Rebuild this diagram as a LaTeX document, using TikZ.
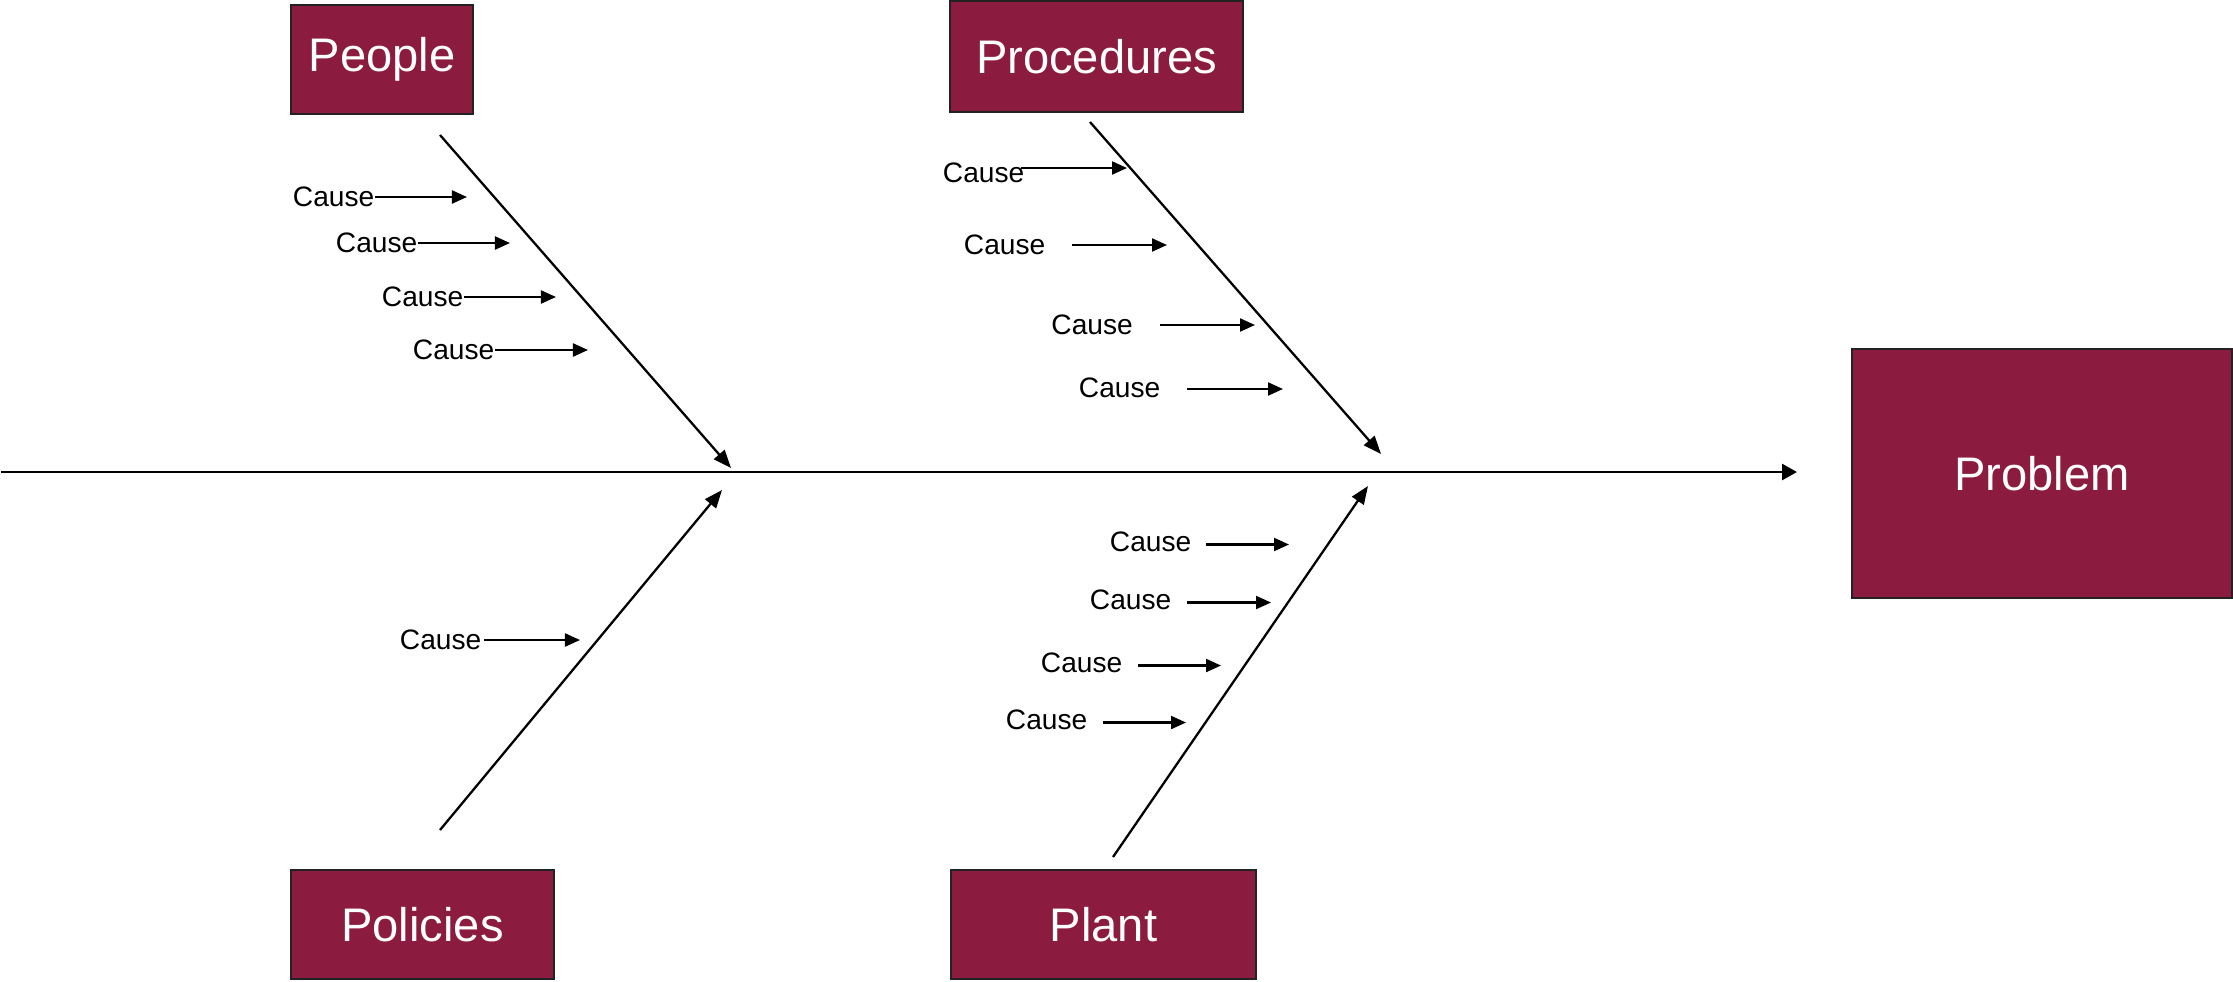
\documentclass[tikz,border=0pt]{standalone}
\usepackage{fontspec}
\setmainfont{Liberation Sans}
\usetikzlibrary{arrows.meta}
\definecolor{boxred}{RGB}{139,28,64}
\definecolor{boxline}{RGB}{34,34,34}
\tikzset{
  catbox/.style={draw=boxline, line width=0.5pt, fill=boxred, text=white, inner sep=0pt,
    font=\fontsize{13.4}{16}\selectfont},
  causetext/.style={inner sep=0pt, anchor=east, font=\fontsize{8}{10}\selectfont},
  spine/.style={line width=0.75pt, -{Triangle[length=0.15cm,width=0.16cm]}},
  bone/.style={line width=0.65pt, -{Triangle[length=0.18cm,width=0.14cm]}},
  causearrow/.style={line width=0.6pt, -{Triangle[length=0.15cm,width=0.13cm]}}
}
\begin{document}
\begin{tikzpicture}[x=0.01cm,y=-0.01cm]
\useasboundingbox (0,0) rectangle (2233,981);

% category boxes
\node[catbox, minimum width=1.82cm, minimum height=1.09cm] (people) at (382,59.5) {People};
\node[catbox, minimum width=2.93cm, minimum height=1.11cm] (procedures) at (1096.5,56.5) {Procedures};
\node[catbox, minimum width=2.63cm, minimum height=1.09cm] (policies) at (422.5,924.5) {Policies};
\node[catbox, minimum width=3.05cm, minimum height=1.09cm] (plant) at (1103.5,924.5) {Plant};
\node[catbox, minimum width=3.80cm, minimum height=2.49cm] (problem) at (2042,473.5) {Problem};

% spine
\coordinate (spinestart) at (1,472);
\coordinate (spineend) at (1797,472);
\draw[spine] (spinestart) -- (spineend);

% bones
\coordinate (peopleA) at (440,135);
\coordinate (peopleB) at (731,468);
\draw[bone] (peopleA) -- (peopleB);
\coordinate (procA) at (1090,122);
\coordinate (procB) at (1381,454);
\draw[bone] (procA) -- (procB);
\coordinate (polA) at (440,830);
\coordinate (polB) at (722,490);
\draw[bone] (polA) -- (polB);
\coordinate (plantA) at (1113,857);
\coordinate (plantB) at (1368,486);
\draw[bone] (plantA) -- (plantB);

% People causes
\node[causetext] (p1) at (375,197) {Cause};
\coordinate (p1e) at (467,197);
\draw[causearrow] (p1e -| p1.east) -- (p1e);
\node[causetext] (p2) at (418,243) {Cause};
\coordinate (p2e) at (510,243);
\draw[causearrow] (p2e -| p2.east) -- (p2e);
\node[causetext] (p3) at (464,297) {Cause};
\coordinate (p3e) at (556,297);
\draw[causearrow] (p3e -| p3.east) -- (p3e);
\node[causetext] (p4) at (495,350) {Cause};
\coordinate (p4e) at (588,350);
\draw[causearrow] (p4e -| p4.east) -- (p4e);

% Procedures causes
\node[causetext] (r1) at (1025,173) {Cause};
\coordinate (r1e) at (1127,168);
\draw[causearrow] ([xshift=-0.045cm]r1e -| r1.east) -- (r1e);
\node[causetext] (r2) at (1046,245) {Cause};
\coordinate (r2e) at (1167,245);
\draw[causearrow] ([xshift=0.26cm]r2e -| r2.east) -- (r2e);
\node[causetext] (r3) at (1133.5,325) {Cause};
\coordinate (r3e) at (1255,325);
\draw[causearrow] ([xshift=0.265cm]r3e -| r3.east) -- (r3e);
\node[causetext] (r4) at (1161,388) {Cause};
\coordinate (r4e) at (1283,389);
\draw[causearrow] ([xshift=0.26cm]r4e -| r4.east) -- (r4e);

% Policies cause
\node[causetext] (o1) at (482,640) {Cause};
\coordinate (o1e) at (580,640);
\draw[causearrow] ([xshift=0.02cm]o1e -| o1.east) -- (o1e);

% Plant causes
\node[causetext] (l1) at (1192,541.5) {Cause};
\coordinate (l1e) at (1289,544.5);
\draw[causearrow] ([xshift=0.14cm]l1e -| l1.east) -- (l1e);
\node[causetext] (l2) at (1172,599.5) {Cause};
\coordinate (l2e) at (1271,602.5);
\draw[causearrow] ([xshift=0.15cm]l2e -| l2.east) -- (l2e);
\node[causetext] (l3) at (1123,662.5) {Cause};
\coordinate (l3e) at (1221,665.5);
\draw[causearrow] ([xshift=0.15cm]l3e -| l3.east) -- (l3e);
\node[causetext] (l4) at (1088,719.5) {Cause};
\coordinate (l4e) at (1186,722.5);
\draw[causearrow] ([xshift=0.15cm]l4e -| l4.east) -- (l4e);
\end{tikzpicture}
\end{document}
